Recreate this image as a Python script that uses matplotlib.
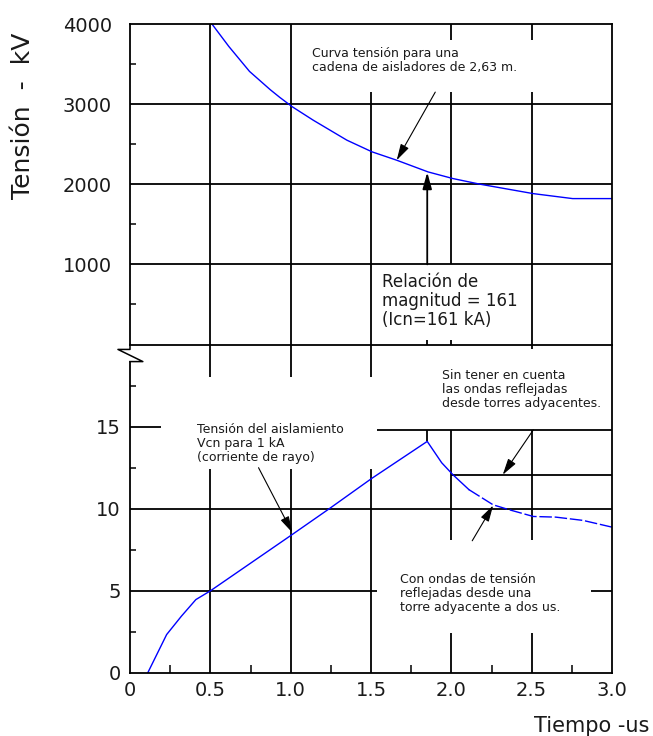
import matplotlib
matplotlib.use('Agg')
import matplotlib.pyplot as plt
from matplotlib.lines import Line2D
from matplotlib.ticker import FixedLocator

# ---------------- data ----------------
# upper panel: insulator string voltage curve (kV) vs time (us)
up_t = [0.51, 0.615, 0.744, 0.873, 0.933, 1.01, 1.14, 1.35, 1.507, 1.66,
        1.855, 2.01, 2.18, 2.51, 2.755, 3.0]
up_v = [4000, 3720, 3408, 3180, 3083, 2967, 2800, 2550, 2404, 2300,
        2154, 2071, 2000, 1883, 1821, 1821]

# lower panel: insulation voltage for 1 kA (kV) vs time (us)
lo_t = [0.11, 0.228, 0.32, 0.41, 0.5, 1.005, 1.24, 1.505, 1.85, 1.94,
        2.01, 2.11, 2.26, 2.36, 2.51, 2.65, 2.82, 3.0]
lo_v = [0, 2.34, 3.46, 4.47, 5.0, 8.4, 10.0, 11.85, 14.1, 12.8,
        12.07, 11.16, 10.24, 9.94, 9.53, 9.49, 9.29, 8.88]
lo_dash_from = 11   # index where the curve becomes dashed

x_ticks = [0, 0.5, 1.0, 1.5, 2.0, 2.5, 3.0]
x_labels = ['0', '0.5', '1.0', '1.5', '2.0', '2.5', '3.0']
up_yticks = [1000, 2000, 3000, 4000]
lo_yticks = [0, 5, 10, 15]

# ---------------- layout ----------------
W, H = 653, 736
fig = plt.figure(figsize=(W / 100, H / 100), dpi=100)


def fx(px):
    return px / W


def fy(py):
    return 1 - py / H


x0, x1 = 130, 612
yt, ymid, yb = 24, 344.5, 673
ax_up = fig.add_axes([fx(x0), fy(ymid), (x1 - x0) / W, (ymid - yt) / H])
ax_lo = fig.add_axes([fx(x0), fy(yb), (x1 - x0) / W, (yb - ymid) / H])

GL = dict(color='black', lw=1.3)
BLUE = '#0000ff'
TXT = '#1a1a1a'


def vseg(ax, x, y0, y1, **kw):
    ax.plot([x, x], [y0, y1], solid_capstyle='butt', **{**GL, **kw})


def hseg(ax, y, xa, xb, **kw):
    ax.plot([xa, xb], [y, y], solid_capstyle='butt', **{**GL, **kw})


# ---------- upper panel ----------
ax_up.set_xlim(0, 3)
ax_up.set_ylim(0, 4000)
for xv in (0.5, 1.0):
    vseg(ax_up, xv, 0, 4000)
vseg(ax_up, 1.5, 0, 3150)
vseg(ax_up, 2.0, 3800, 4000)
vseg(ax_up, 2.5, 3800, 4000)
vseg(ax_up, 2.0, 1000, 3150)
vseg(ax_up, 2.5, 0, 3150)
for yv in (1000, 2000, 3000):
    hseg(ax_up, yv, 0, 3)
# little stubs crossing the panel boundary
for xv in (1.85, 2.0):
    vseg(ax_up, xv, -65, 60, clip_on=False)

ax_up.plot(up_t, up_v, color=BLUE, lw=1.0)

ax_up.annotate('', xy=(1.85, 2150), xytext=(1.85, 1000),
               arrowprops=dict(arrowstyle='-|>,head_length=0.9,head_width=0.25',
                               lw=1.3, color='black', shrinkA=0, shrinkB=0,
                               mutation_scale=11))
ax_up.annotate('', xy=(1.66, 2300), xytext=(1.90, 3150),
               arrowprops=dict(arrowstyle='-|>,head_length=0.9,head_width=0.25',
                               lw=0.8, color='black', shrinkA=0, shrinkB=0,
                               mutation_scale=11))
ax_up.text(1.13, 3712, 'Curva tensión para una\ncadena de aisladores de 2,63 m.',
           fontsize=9, ha='left', va='top', linespacing=1.1, color=TXT)
ax_up.text(1.57, 887, 'Relación de\nmagnitud = 161\n(Icn=161 kA)',
           fontsize=12, ha='left', va='top', linespacing=1.05, color=TXT)

ax_up.spines['bottom'].set_visible(False)
for s in ('top', 'left', 'right'):
    ax_up.spines[s].set_linewidth(1.3)
ax_up.set_xticks([])
ax_up.set_yticks(up_yticks)
ax_up.set_yticklabels([str(v) for v in up_yticks])
ax_up.yaxis.set_minor_locator(FixedLocator([500, 1500, 2500, 3500]))
ax_up.tick_params(axis='y', which='major', length=0, pad=13, labelsize=14,
                  labelcolor=TXT)
ax_up.tick_params(axis='y', which='minor', direction='in', length=4, width=1.1)

# ---------- lower panel ----------
ax_lo.set_xlim(0, 3)
ax_lo.set_ylim(0, 20)
for xv in (0.5, 1.0, 1.5):
    vseg(ax_lo, xv, 0, 12.45)
    vseg(ax_lo, xv, 18.05, 20)
for xv in (2.0, 2.5):
    vseg(ax_lo, xv, 0, 2.44)
    vseg(ax_lo, xv, 8.1, 14.8)
vseg(ax_lo, 1.85, 14.1, 14.8)
vseg(ax_lo, 2.5, 19.7, 20)
hseg(ax_lo, 15, 0, 0.19)
hseg(ax_lo, 14.8, 1.535, 3)
hseg(ax_lo, 12.07, 2.0, 3)
hseg(ax_lo, 10, 0, 3)
hseg(ax_lo, 5, 0, 1.535)
hseg(ax_lo, 5, 2.87, 3)

ax_lo.plot(lo_t[:lo_dash_from + 1], lo_v[:lo_dash_from + 1], color=BLUE, lw=1.0)
ax_lo.plot(lo_t[lo_dash_from:], lo_v[lo_dash_from:], color=BLUE, lw=1.0,
           linestyle=(0, (9, 2)))

AP = dict(arrowstyle='-|>,head_length=0.9,head_width=0.25', lw=0.8,
          color='black', shrinkA=0, shrinkB=0, mutation_scale=11)
ax_lo.annotate('', xy=(1.01, 8.55), xytext=(0.80, 12.5), arrowprops=AP)
ax_lo.annotate('', xy=(2.32, 12.07), xytext=(2.51, 14.8), arrowprops=AP)
ax_lo.annotate('', xy=(2.26, 10.2), xytext=(2.13, 8.05), arrowprops=AP)

ax_lo.text(0.42, 15.2, 'Tensión del aislamiento\nVcn para 1 kA\n(corriente de rayo)',
           fontsize=9, ha='left', va='top', linespacing=1.1, color=TXT)
ax_lo.text(1.94, 18.5, 'Sin tener en cuenta\nlas ondas reflejadas\ndesde torres adyacentes.',
           fontsize=9, ha='left', va='top', linespacing=1.1, color=TXT)
ax_lo.text(1.68, 6.1, 'Con ondas de tensión\nreflejadas desde una\ntorre adyacente a dos us.',
           fontsize=9, ha='left', va='top', linespacing=1.1, color=TXT)

for s in ('top', 'bottom', 'right', 'left'):
    ax_lo.spines[s].set_linewidth(1.3)
ax_lo.spines['left'].set_bounds(0, 18.96)
# axis break symbol
ax_lo.add_line(Line2D([0, 0, -0.075, 0.08, 0], [20, 19.7, 19.7, 18.96, 18.96],
                      color='black', lw=1.1, clip_on=False))

ax_lo.set_xticks(x_ticks)
ax_lo.set_xticklabels(x_labels)
ax_lo.set_yticks(lo_yticks)
ax_lo.set_yticklabels([str(v) for v in lo_yticks])
ax_lo.xaxis.set_minor_locator(FixedLocator([0.25, 0.75, 1.25, 1.75, 2.25, 2.75]))
ax_lo.yaxis.set_minor_locator(FixedLocator([2.5, 7.5, 12.5, 17.5]))
ax_lo.tick_params(axis='x', which='major', length=0, pad=6, labelsize=14,
                  labelcolor=TXT)
ax_lo.tick_params(axis='y', which='major', length=0, pad=6.5, labelsize=14,
                  labelcolor=TXT)
ax_lo.tick_params(axis='x', which='minor', direction='in', length=6, width=1.1,
                  bottom=True, top=False)
ax_lo.tick_params(axis='y', which='minor', direction='in', length=4.5, width=1.1)

# axis titles
fig.text(fx(23), fy(116), 'Tensión  -  kV', rotation=90, fontsize=18,
         ha='center', va='center', color=TXT)
fig.text(fx(649), fy(726), 'Tiempo -us', fontsize=15, ha='right', va='center',
         color=TXT)

fig.savefig('out.png', dpi=100)
